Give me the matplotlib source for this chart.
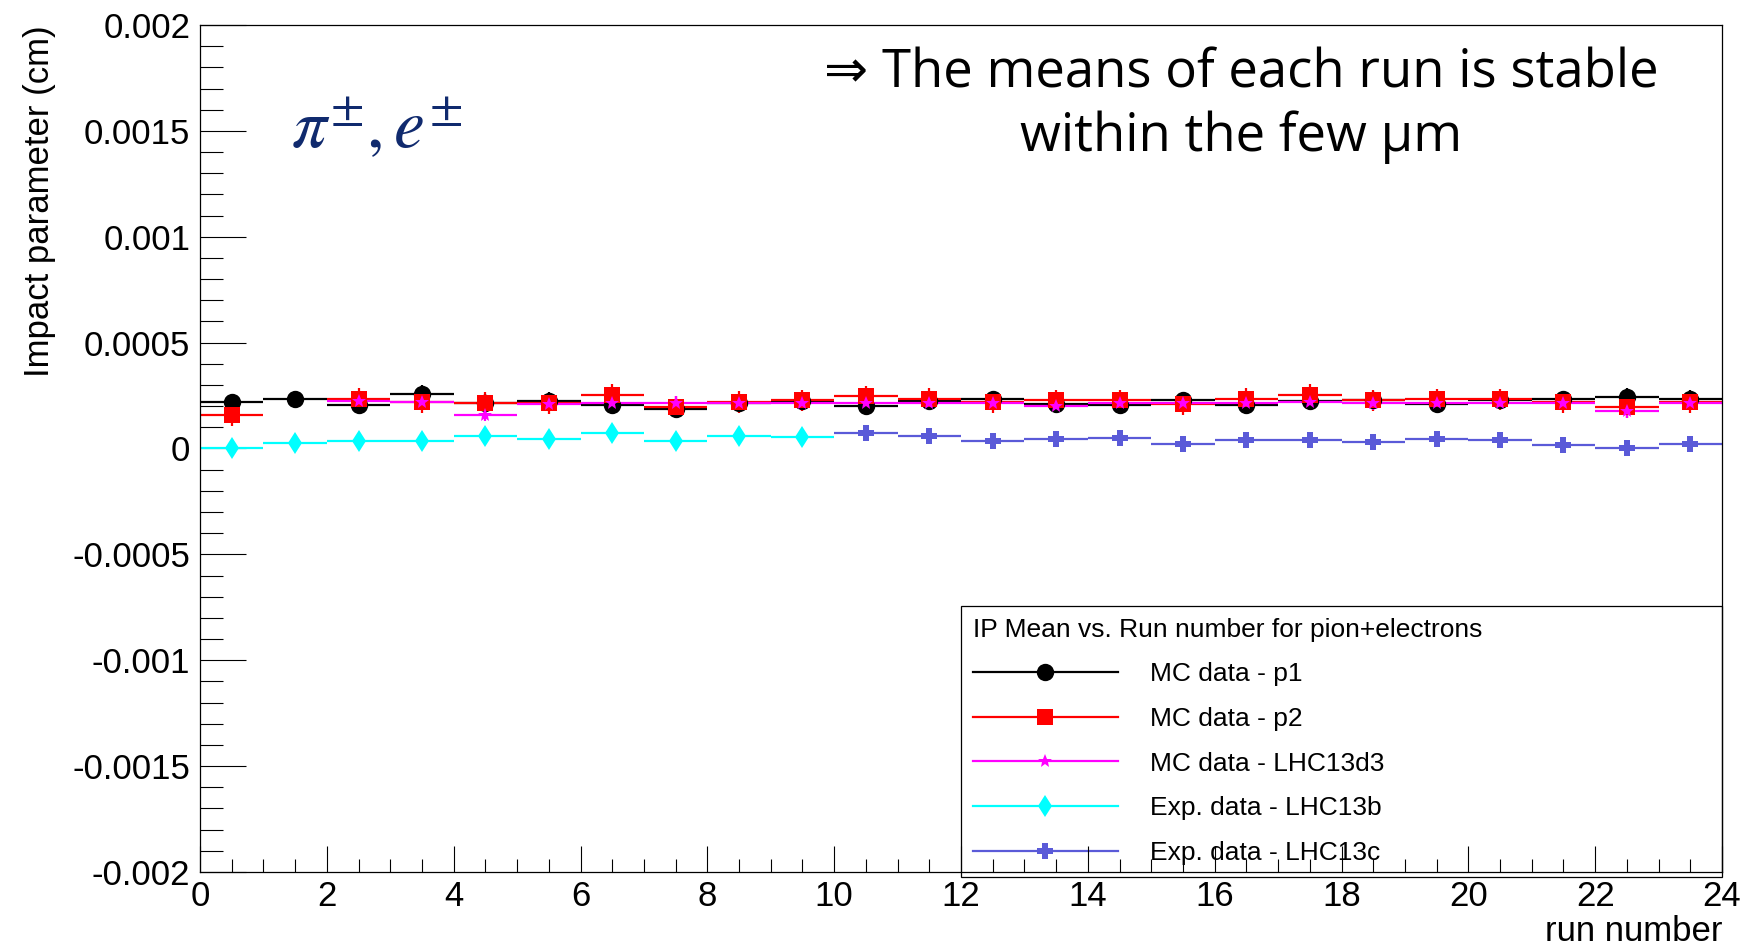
import numpy as np
import matplotlib.pyplot as plt
from matplotlib.lines import Line2D
from matplotlib.ticker import FixedLocator, FixedFormatter, MultipleLocator

plt.rcParams['font.family'] = ['Liberation Sans', 'DejaVu Sans']
plt.rcParams['mathtext.fontset'] = 'stix'

nan = np.nan

# run bins (centres), one entry per run
run_centres = [0.5, 1.5, 2.5, 3.5, 4.5, 5.5, 6.5, 7.5, 8.5, 9.5, 10.5, 11.5,
               12.5, 13.5, 14.5, 15.5, 16.5, 17.5, 18.5, 19.5, 20.5, 21.5, 22.5, 23.5]

# mean impact parameter per run (cm)
ip_mc_p1 = [0.000219, 0.000233, 0.000207, 0.000258, 0.000216, 0.000225, 0.000205, 0.000185,
            0.000216, 0.000222, 0.000203, 0.000225, 0.000233, 0.000210, 0.000205, 0.000228,
            0.000205, 0.000222, 0.000228, 0.000212, 0.000228, 0.000232, 0.000245, 0.000234]
ip_mc_p2 = [0.000158, nan, 0.000236, 0.000220, 0.000216, 0.000213, 0.000254, 0.000197,
            0.000220, 0.000228, 0.000247, 0.000236, 0.000220, 0.000228, 0.000228, 0.000210,
            0.000236, 0.000255, 0.000228, 0.000233, 0.000233, 0.000220, 0.000194, 0.000220]
ip_mc_d3 = [nan, nan, 0.000225, 0.000220, 0.000158, 0.000210, 0.000216, 0.000216,
            0.000217, 0.000216, 0.000213, 0.000216, 0.000213, 0.000200, 0.000213, 0.000213,
            0.000216, 0.000218, 0.000213, 0.000216, 0.000216, 0.000216, 0.000176, 0.000213]
ip_exp_13b = [0.0, 0.000027, 0.000036, 0.000036, 0.000060, 0.000044, 0.000074, 0.000036,
              0.000060, 0.000055, nan, nan, nan, nan, nan, nan,
              nan, nan, nan, nan, nan, nan, nan, nan]
ip_exp_13c = [nan, nan, nan, nan, nan, nan, nan, nan,
              nan, nan, 0.000071, 0.000060, 0.000036, 0.000046, 0.000050, 0.000020,
              0.000038, 0.000038, 0.000031, 0.000044, 0.000039, 0.000016, 0.0, 0.000020]

# statistical error on the means (cm)
err_p1 = 0.00004
err_p2 = 0.00005
err_d3 = 0.00003
err_13b = 0.00001
err_13c = 0.00001

series_labels = ['MC data - p1', 'MC data - p2', 'MC data - LHC13d3',
                 'Exp. data - LHC13b', 'Exp. data - LHC13c']

y_ticks = [0.002, 0.0015, 0.001, 0.0005, 0.0, -0.0005, -0.001, -0.0015, -0.002]
y_tick_labels = ['0.002', '0.0015', '0.001', '0.0005', '0', '-0.0005', '-0.001', '-0.0015', '-0.002']
x_ticks = [0, 2, 4, 6, 8, 10, 12, 14, 16, 18, 20, 22, 24]

fig = plt.figure(figsize=(17.44, 9.47), dpi=100)
ax = fig.add_axes([0.1147, 0.0792, 0.8727, 0.8944])

styles = [
    (ip_mc_p1, err_p1, 'black', 'o', 12.5),
    (ip_mc_p2, err_p2, '#ff0000', 's', 12.0),
    (ip_mc_d3, err_d3, '#ff00ff', '*', 10.0),
    (ip_exp_13b, err_13b, '#00ffff', 'd', 11.5),
    (ip_exp_13c, err_13c, '#5a5ad8', 'P', 12.0),
]
handles = []
for (vals, err, col, mk, ms), lab in zip(styles, series_labels):
    ax.errorbar(run_centres, vals, xerr=0.5, yerr=err, fmt=mk, color=col,
                ecolor=col, elinewidth=1.6, capsize=0, markersize=ms,
                markeredgewidth=0)
    # legend entry: line with marker in the middle
    handles.append(Line2D([], [], color=col, marker=mk, markersize=ms,
                          markeredgewidth=0, linewidth=1.6, label=lab))

ax.set_xlim(0, 24)
ax.set_ylim(-0.002, 0.002)

ax.yaxis.set_major_locator(FixedLocator(y_ticks))
ax.yaxis.set_major_formatter(FixedFormatter(y_tick_labels))
ax.yaxis.set_minor_locator(MultipleLocator(0.0001))
ax.xaxis.set_major_locator(FixedLocator(x_ticks))
ax.xaxis.set_minor_locator(MultipleLocator(0.5))

ax.tick_params(axis='both', which='both', direction='in', colors='black',
               labelsize=25, width=0.8, right=False, top=False)
ax.tick_params(axis='y', which='major', length=33, pad=7)
ax.tick_params(axis='y', which='minor', length=16.5)
ax.tick_params(axis='x', which='major', length=18.7, pad=6)
ax.tick_params(axis='x', which='minor', length=9.4)
for sp in ax.spines.values():
    sp.set_linewidth(0.9)

ax.set_xlabel('run number', fontsize=25, loc='right', labelpad=1)
ax.set_ylabel('Impact parameter (cm)', fontsize=25, loc='top', labelpad=12)

leg = ax.legend(handles=handles, labels=series_labels,
                title='IP Mean vs. Run number for pion+electrons',
                title_fontsize=19, fontsize=19, alignment='left',
                loc='upper left', bbox_to_anchor=(0.5, 0.0, 0.5, 0.314),
                mode='expand', borderaxespad=0, fancybox=False, framealpha=1,
                edgecolor='black', handlelength=5.5, handletextpad=1.2,
                labelspacing=0.78, borderpad=0.45)
leg.get_frame().set_linewidth(0.9)
leg.set_zorder(1)

# annotations on the plot
ax.text(0.0595, 0.855, r'$\pi^{\pm}, e^{\pm}$', transform=ax.transAxes,
        fontsize=50, color='#102a6e', ha='left', va='baseline')
ax.text(0.684, 0.974, '\u21d2 The means of each run is stable\nwithin the few \u03bcm',
        transform=ax.transAxes, fontsize=38, ha='center', va='top',
        multialignment='center', linespacing=1.24,
        family=['Open Sans', 'DejaVu Sans'])

plt.savefig('out.png', dpi=100)
